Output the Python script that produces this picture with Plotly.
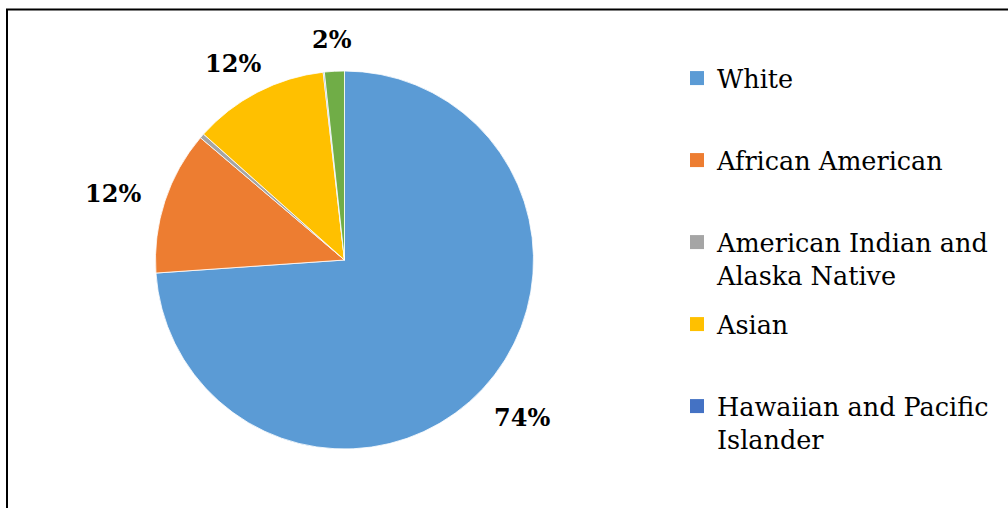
import math
import plotly.graph_objects as go

# Population share by race (percent)
categories = [
    "White",
    "African American",
    "American Indian and Alaska Native",
    "Asian",
    "Hawaiian and Pacific Islander",
    "Two or More Races",
]
shares = [73.9, 12.3, 0.4, 11.6, 0.1, 1.7]
slice_colors = ["#5B9BD5", "#ED7D31", "#A5A5A5", "#FFC000", "#4472C4", "#70AD47"]
# categories listed in the legend panel (with display line breaks)
legend_names = [
    "White",
    "African American",
    "American Indian and<br>Alaska Native",
    "Asian",
    "Hawaiian and Pacific<br>Islander",
]
show_label = [True, True, False, True, False, True]

W, H = 1008, 508
cx, cy, r = 344.5, 260.0, 189.0
label_gap = 26
label_size = 24

fig = go.Figure()

fig.add_trace(go.Pie(
    labels=categories,
    values=shares,
    sort=False,
    direction="clockwise",
    rotation=0,
    marker=dict(colors=slice_colors, line=dict(color="white", width=0.8)),
    textinfo="none",
    showlegend=False,
    hoverinfo="label+percent",
    domain=dict(x=[(cx - r) / W, (cx + r) / W],
                y=[(H - cy - r) / H, (H - cy + r) / H]),
))

# percentage labels just outside each slice, centred on the slice's mid-angle
total = sum(shares)
annotations = []
cum = 0.0
for share, show in zip(shares, show_label):
    mid = (cum + share / 2) / total * 2 * math.pi
    cum += share
    if not show:
        continue
    text = f"{round(share / total * 100)}%"
    ux, uy = math.sin(mid), -math.cos(mid)
    w_est = 0.79 * label_size * len(text)
    h_est = 0.85 * label_size
    px = cx + (r + label_gap) * ux + ux * w_est / 2
    py = cy + (r + label_gap) * uy + uy * h_est / 2
    annotations.append(dict(
        x=px / W, y=1 - py / H, xref="paper", yref="paper",
        xanchor="center", yanchor="middle", showarrow=False, yshift=-4,
        text=f"<b>{text}</b>",
        font=dict(family="DejaVu Serif", size=label_size, color="black"),
    ))

# one legend box per entry, evenly spaced down the right side
legend_rows = [79, 161, 243, 325, 407]
layout_legends = {}
for i, (name, color, row) in enumerate(zip(legend_names, slice_colors, legend_rows)):
    key = "legend" if i == 0 else f"legend{i + 1}"
    fig.add_trace(go.Scatter(
        x=[None], y=[None], mode="markers", name=name,
        marker=dict(symbol="square", size=14, color=color),
        legend=key,
    ))
    layout_legends[key] = dict(
        x=677 / W, xanchor="left",
        y=1 - (row - 24) / H, yanchor="top",
        valign="top",
        bgcolor="rgba(0,0,0,0)",
        font=dict(family="DejaVu Serif", size=25.5, color="black"),
        itemclick=False, itemdoubleclick=False,
    )

fig.update_layout(
    width=W, height=H,
    margin=dict(l=0, r=0, t=0, b=0),
    paper_bgcolor="white",
    plot_bgcolor="white",
    xaxis=dict(visible=False),
    yaxis=dict(visible=False),
    annotations=annotations,
    shapes=[dict(
        type="rect", xref="paper", yref="paper",
        x0=7 / W, x1=1.05, y0=-0.05, y1=1 - 9.5 / H,
        line=dict(color="black", width=2),
        fillcolor="rgba(0,0,0,0)", layer="above",
    )],
    **layout_legends,
)

fig.write_html("out.html")
